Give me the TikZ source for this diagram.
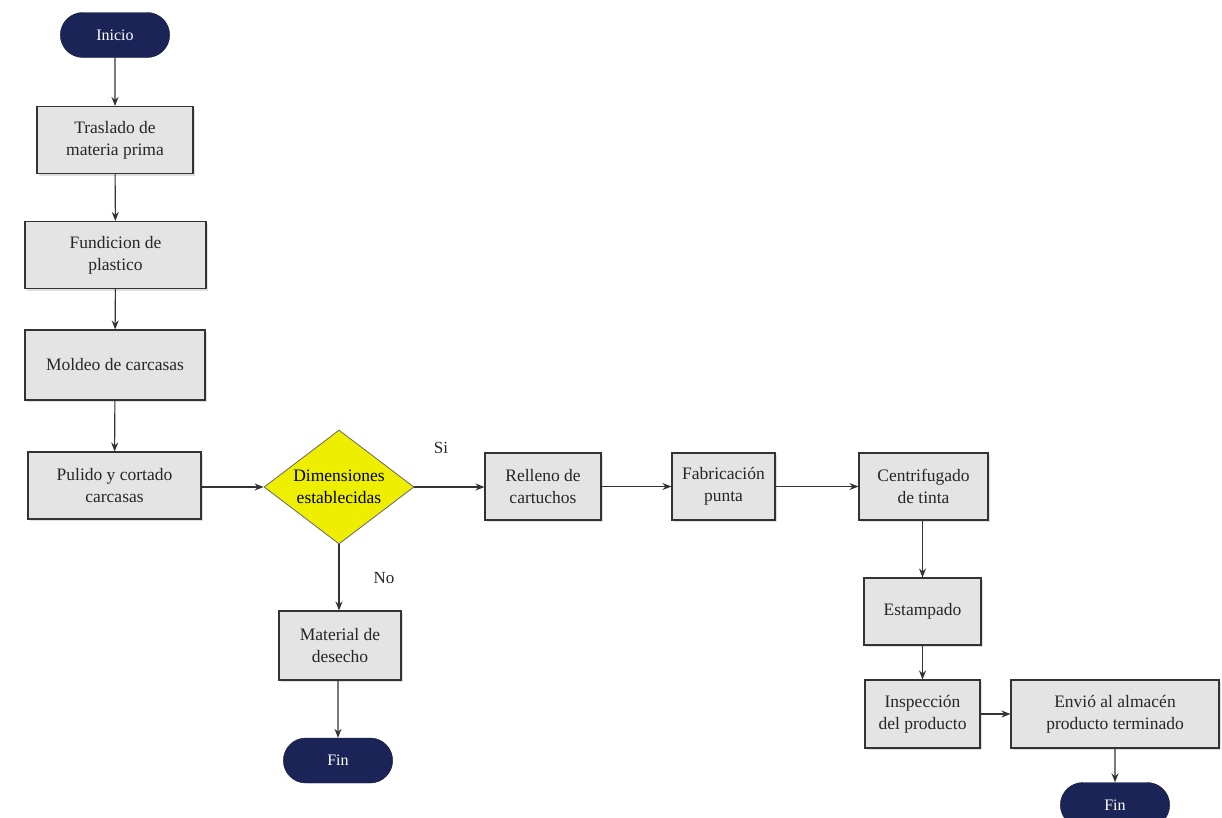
\documentclass[tikz,border=0pt]{standalone}
\usepackage{fontspec}
\setmainfont{Liberation Serif}
\usetikzlibrary{shapes.geometric,shapes.misc,arrows.meta,shadows}
\definecolor{navy}{HTML}{1B2456}
\definecolor{boxgray}{HTML}{E4E4E4}
\definecolor{diayellow}{HTML}{EEEE00}
\begin{document}
\begin{tikzpicture}[x=1pt,y=-1pt,
  every node/.style={font=\fontsize{17.5}{22}\selectfont, text=black!85},
  procbox/.style={draw=black!80, line width=1.1pt, fill=boxgray, align=center, inner sep=2pt,
    drop shadow={shadow xshift=2pt, shadow yshift=-2pt, fill=black!25}},
  term/.style={rounded rectangle, draw=navy!60!black, fill=navy, text=white, minimum width=116pt, minimum height=45pt,
    font=\fontsize{16}{20}\selectfont},
  decision/.style={diamond, draw=black!60, line width=0.8pt, fill=diayellow, minimum width=150pt, minimum height=114pt, inner sep=0pt},
  flow/.style={draw=black!80, line width=1.1pt, -{Stealth[length=9pt,width=7pt]}},
  lbl/.style={font=\fontsize{17}{20}\selectfont}
]
\useasboundingbox (0,0) rectangle (1222,817);
\clip (0,0) rectangle (1222,817);
\node[term] (ini) at (115,35) {Inicio};
\node[procbox, minimum width=156pt, minimum height=67pt] (tras) at (115,140) {Traslado de\\materia prima};
\node[procbox, minimum width=181pt, minimum height=67pt] (fund) at (115.5,255) {Fundicion de\\plastico};
\node[procbox, minimum width=180pt, minimum height=70pt] (mold) at (115,365) {Moldeo de carcasas};
\node[procbox, minimum width=173pt, minimum height=67pt] (pul) at (114.5,485.5) {Pulido y cortado\\carcasas};
\node[decision, label={[align=center, text=black]center:Dimensiones\\establecidas}] (dim) at (339,487) {};
\node[procbox, minimum width=116pt, minimum height=67pt] (rell) at (543,486.5) {Relleno de\\cartuchos};
\node[procbox, minimum width=103pt, minimum height=67pt] (fab) at (723.5,486.5) {Fabricación\\punta};
\node[procbox, minimum width=129pt, minimum height=67pt] (cent) at (923.5,486.5) {Centrifugado\\de tinta};
\node[procbox, minimum width=117pt, minimum height=67pt] (est) at (922.5,611.5) {Estampado};
\node[procbox, minimum width=115pt, minimum height=68pt] (insp) at (922.5,714) {Inspección\\del producto};
\node[procbox, minimum width=208pt, minimum height=68pt] (env) at (1115,714) {Envió al almacén\\producto terminado};
\node[procbox, minimum width=122pt, minimum height=69pt] (mat) at (340,645.5) {Material de\\desecho};
\node[term] (fin1) at (338,760.5) {Fin};
\node[term] (fin2) at (1115,805) {Fin};
\node[lbl] (si) at (441,448) {Si};
\node[lbl] (no) at (384,578) {No};
\draw[flow] (ini) -- (tras);
\draw[flow] (tras) -- (fund);
\draw[flow] (fund) -- (mold);
\draw[flow] (mold) -- (pul);
\draw[flow] (pul.east |- dim.west) -- (dim.west);
\draw[flow] (dim.east) -- (dim.east -| rell.west);
\draw[flow] (rell.east |- fab.west) -- (fab.west);
\draw[flow] (fab) -- (cent);
\draw[flow] (cent.south -| est.north) -- (est);
\draw[flow] (est) -- (insp);
\draw[flow] (insp) -- (env);
\draw[flow] (env) -- (fin2);
\draw[flow] (dim.south) -- (dim.south |- mat.north);
\draw[flow] (mat.south -| fin1.north) -- (fin1);
\end{tikzpicture}
\end{document}
